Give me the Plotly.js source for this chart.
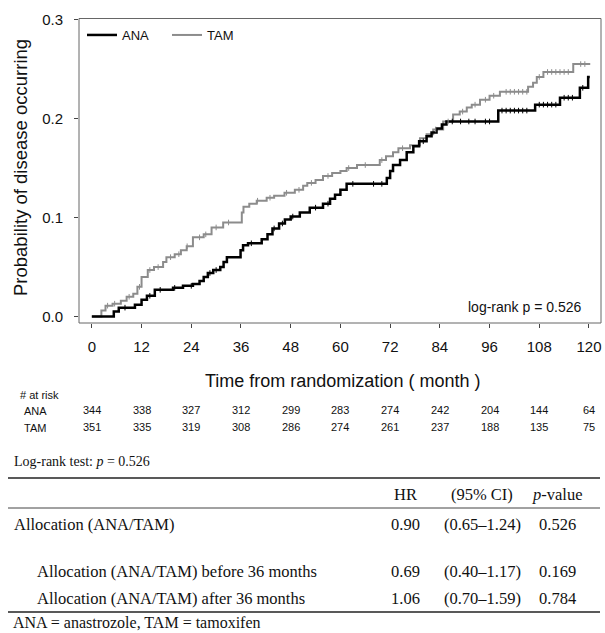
<!DOCTYPE html>
<html>
<head>
<meta charset="utf-8">
<script src="https://cdn.plot.ly/plotly-3.0.1.min.js"></script>
<style>html,body{margin:0;padding:0;background:#fff;}#chart{width:605px;height:633px;}</style>
</head>
<body>
<div id="chart"></div>
<script>
// ---- data ----
const anaTimes = [0, 5.3, 6.5, 10.4, 12.0, 13.3, 15.2, 19.6, 22.0, 24.4, 26.0, 27.0, 28.0, 29.3, 31.0, 31.8, 32.6, 35.9, 36.5, 37.7, 41.0, 42.4, 43.6, 45.2, 46.6, 48.0, 50.2, 52.6, 55.8, 57.5, 58.7, 60.0, 61.5, 71.2, 72.0, 72.7, 74.4, 76.0, 77.6, 79.0, 80.8, 82.0, 83.2, 84.5, 85.6, 98.1, 107.0, 113.0, 117.8, 119.8, 120.2];
const anaProb  = [0, 0.005, 0.009, 0.012, 0.017, 0.021, 0.027, 0.029, 0.031, 0.033, 0.036, 0.040, 0.044, 0.047, 0.050, 0.055, 0.060, 0.067, 0.072, 0.074, 0.078, 0.083, 0.089, 0.094, 0.098, 0.101, 0.105, 0.110, 0.114, 0.119, 0.123, 0.128, 0.134, 0.140, 0.147, 0.153, 0.158, 0.166, 0.172, 0.177, 0.182, 0.186, 0.190, 0.194, 0.197, 0.208, 0.214, 0.221, 0.231, 0.242, 0.242];
const tamTimes = [0, 2.3, 3.3, 5.0, 7.0, 8.4, 10.0, 11.0, 12.0, 13.5, 15.0, 17.2, 18.0, 20.0, 21.5, 22.9, 24.4, 27.0, 28.9, 31.7, 36.2, 36.6, 38.0, 39.8, 42.2, 44.0, 46.5, 49.0, 51.0, 52.0, 54.0, 55.8, 58.0, 60.0, 61.5, 64.0, 69.5, 71.0, 72.7, 74.0, 76.8, 79.2, 80.8, 82.4, 84.8, 87.2, 88.8, 90.5, 91.7, 93.7, 96.0, 98.5, 105.3, 106.5, 107.4, 109.0, 116.2, 120.3];
const tamProb  = [0, 0.006, 0.011, 0.013, 0.016, 0.020, 0.023, 0.030, 0.040, 0.047, 0.050, 0.055, 0.060, 0.063, 0.067, 0.071, 0.080, 0.083, 0.090, 0.095, 0.105, 0.111, 0.114, 0.117, 0.120, 0.122, 0.125, 0.128, 0.132, 0.135, 0.138, 0.142, 0.145, 0.147, 0.150, 0.153, 0.158, 0.162, 0.166, 0.170, 0.173, 0.180, 0.184, 0.189, 0.197, 0.204, 0.207, 0.211, 0.214, 0.219, 0.223, 0.227, 0.232, 0.236, 0.242, 0.247, 0.255, 0.255];
const anaCensor = [8, 14, 16.5, 20, 24, 28.5, 30, 38.5, 44, 46, 48.5, 54, 57, 63, 68, 70, 80, 87, 89, 91, 92.5, 95, 96, 99, 100, 101, 102, 103, 104, 105, 108, 109, 110, 111, 112, 114, 115, 116, 118.5];
const tamCensor = [3.8, 5.5, 9, 11.5, 14, 16, 19, 21, 23, 26, 27.5, 30, 33, 40, 43, 47, 50, 53, 57, 62, 66, 70, 75, 83, 86, 89.5, 92.5, 95, 97, 100, 101, 102, 103, 104, 105, 108, 110, 111, 112, 113, 114, 115, 118, 119];

const riskMonths = [0, 12, 24, 36, 48, 60, 72, 84, 96, 108, 120];
const anaRisk = [344, 338, 327, 312, 299, 283, 274, 242, 204, 144, 64];
const tamRisk = [351, 335, 319, 308, 286, 274, 261, 237, 188, 135, 75];

const tableHeader = ["HR", "(95% CI)", "<i>p</i>-value"];
const tableLabels = ["Allocation (ANA/TAM)", "Allocation (ANA/TAM) before 36 months", "Allocation (ANA/TAM) after 36 months"];
const tableHR = ["0.90", "0.69", "1.06"];
const tableCI = ["(0.65\u20131.24)", "(0.40\u20131.17)", "(0.70\u20131.59)"];
const tableP = ["0.526", "0.169", "0.784"];

// ---- helpers ----
const W = 605, H = 633;
const X = px => px / W;
const Y = py => 1 - py / H;
function stepAt(times, vals, t) {
  let v = vals[0];
  for (let i = 0; i < times.length; i++) { if (times[i] <= t) v = vals[i]; }
  return v;
}

const sans = "Arial, 'Liberation Sans', sans-serif";
const serif = "'Times New Roman', 'Liberation Serif', serif";
const TAMC = '#8c8c8c';

const traces = [
  {x: tamTimes, y: tamProb, type: 'scatter', mode: 'lines', line: {shape: 'hv', color: TAMC, width: 2}, name: 'TAM', legendrank: 2},
  {x: anaTimes, y: anaProb, type: 'scatter', mode: 'lines', line: {shape: 'hv', color: '#000', width: 2.5}, name: 'ANA', legendrank: 1},
  {x: tamCensor, y: tamCensor.map(t => stepAt(tamTimes, tamProb, t)), type: 'scatter', mode: 'markers', showlegend: false, hoverinfo: 'skip',
   marker: {symbol: 'line-ns-open', size: 4, color: TAMC, line: {color: TAMC, width: 1}}},
  {x: anaCensor, y: anaCensor.map(t => stepAt(anaTimes, anaProb, t)), type: 'scatter', mode: 'markers', showlegend: false, hoverinfo: 'skip',
   marker: {symbol: 'line-ns-open', size: 4, color: '#000', line: {color: '#000', width: 1}}}
];

const ann = [];
ann.push({xref: 'paper', yref: 'paper', x: X(20), y: Y(168), text: 'Probability of disease occurring', textangle: -90, showarrow: false,
  font: {family: sans, size: 18.5, color: '#111'}, xanchor: 'center', yanchor: 'middle'});
ann.push({xref: 'paper', yref: 'paper', x: X(342), y: Y(381), text: 'Time from randomization ( month )', showarrow: false,
  font: {family: sans, size: 18, color: '#111'}, xanchor: 'center', yanchor: 'middle'});
ann.push({xref: 'paper', yref: 'paper', x: X(583), y: Y(307), text: 'log-rank p = 0.526', showarrow: false,
  font: {family: sans, size: 14, color: '#111'}, xanchor: 'right', yanchor: 'middle'});
// at risk
ann.push({xref: 'paper', yref: 'paper', x: X(18), y: Y(395), text: '# at risk', showarrow: false,
  font: {family: sans, size: 11, color: '#111'}, xanchor: 'left', yanchor: 'middle'});
ann.push({xref: 'paper', yref: 'paper', x: X(22), y: Y(411), text: 'ANA', showarrow: false,
  font: {family: sans, size: 11, color: '#111'}, xanchor: 'left', yanchor: 'middle'});
ann.push({xref: 'paper', yref: 'paper', x: X(22), y: Y(428), text: 'TAM', showarrow: false,
  font: {family: sans, size: 11, color: '#111'}, xanchor: 'left', yanchor: 'middle'});
riskMonths.forEach((m, i) => {
  ann.push({xref: 'x', yref: 'paper', x: m, y: Y(410), text: String(anaRisk[i]), showarrow: false,
    font: {family: sans, size: 11, color: '#111'}, xanchor: 'center', yanchor: 'middle'});
  ann.push({xref: 'x', yref: 'paper', x: m, y: Y(427), text: String(tamRisk[i]), showarrow: false,
    font: {family: sans, size: 11, color: '#111'}, xanchor: 'center', yanchor: 'middle'});
});
// log-rank test line
ann.push({xref: 'paper', yref: 'paper', x: X(12), y: Y(461), text: 'Log-rank test: <i>p</i> = 0.526', showarrow: false,
  font: {family: serif, size: 14, color: '#111'}, xanchor: 'left', yanchor: 'middle'});
// table
const colX = [405, 482, 557];
const tf = {family: serif, size: 16.5, color: '#111'};
tableHeader.forEach((h, j) => ann.push({xref: 'paper', yref: 'paper', x: X(colX[j]), y: Y(494), text: h, showarrow: false, font: tf, xanchor: 'center', yanchor: 'middle'}));
const rowY = [524, 571, 598];
const rowX = [12, 35, 35];
tableLabels.forEach((lab, i) => {
  ann.push({xref: 'paper', yref: 'paper', x: X(rowX[i]), y: Y(rowY[i]), text: lab, showarrow: false, font: tf, xanchor: 'left', yanchor: 'middle'});
  [tableHR[i], tableCI[i], tableP[i]].forEach((v, j) => ann.push({xref: 'paper', yref: 'paper', x: X(colX[j]), y: Y(rowY[i]), text: v, showarrow: false, font: tf, xanchor: 'center', yanchor: 'middle'}));
});
ann.push({xref: 'paper', yref: 'paper', x: X(12), y: Y(632), text: 'ANA = anastrozole, TAM = tamoxifen', showarrow: false,
  font: {family: serif, size: 16, color: '#111'}, xanchor: 'left', yanchor: 'bottom', borderpad: 0});

const shapes = [
  {type: 'rect', xref: 'x domain', yref: 'y domain', x0: 0, x1: 1, y0: 0, y1: 1, line: {color: '#666', width: 1}},
  {type: 'line', xref: 'paper', yref: 'paper', x0: X(8), x1: X(600), y0: Y(478), y1: Y(478), line: {color: '#222', width: 1.6}},
  {type: 'line', xref: 'paper', yref: 'paper', x0: X(8), x1: X(600), y0: Y(508), y1: Y(508), line: {color: '#444', width: 1}},
  {type: 'line', xref: 'paper', yref: 'paper', x0: X(8), x1: X(600), y0: Y(612), y1: Y(612), line: {color: '#222', width: 1.6}}
];

const layout = {
  width: W, height: H,
  margin: {l: 0, r: 0, t: 0, b: 0},
  paper_bgcolor: '#fff', plot_bgcolor: '#fff',
  showlegend: true,
  legend: {orientation: 'h', x: X(82), y: Y(20), xanchor: 'left', yanchor: 'top', bgcolor: 'rgba(0,0,0,0)',
    font: {family: sans, size: 13, color: '#111'}, itemwidth: 30, traceorder: 'normal', entrywidth: 40, entrywidthmode: 'pixels'},
  xaxis: {domain: [X(79), X(601)], range: [-3.1, 122.9], tickvals: riskMonths, ticks: 'outside', ticklen: 4, tickcolor: '#444',
    showgrid: false, zeroline: false, showline: false, tickfont: {family: sans, size: 15, color: '#111'}, ticklabelstandoff: 6, fixedrange: true},
  yaxis: {domain: [Y(323), Y(18.5)], range: [-0.0065, 0.301], tickvals: [0, 0.1, 0.2, 0.3], ticktext: ['0.0', '0.1', '0.2', '0.3'],
    ticks: 'outside', ticklen: 4, tickcolor: '#444', showgrid: false, zeroline: false, showline: false,
    tickfont: {family: sans, size: 15, color: '#111'}, ticklabelstandoff: 8, fixedrange: true},
  annotations: ann,
  shapes: shapes
};

Plotly.newPlot('chart', traces, layout, {displayModeBar: false, staticPlot: true});
</script>
</body>
</html>
